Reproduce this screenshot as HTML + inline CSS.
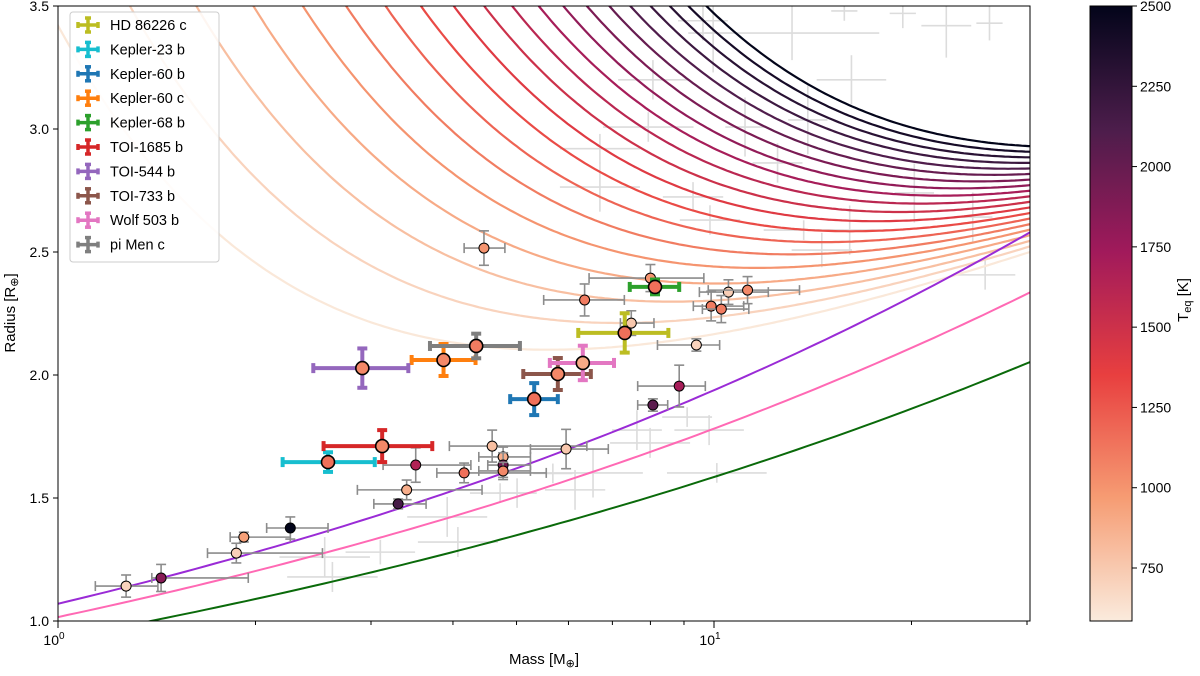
<!DOCTYPE html>
<html><head><meta charset="utf-8"><style>
body{margin:0;background:#fff;font-family:"Liberation Sans",sans-serif;}
svg text{font-family:"Liberation Sans","DejaVu Sans",sans-serif;}
</style></head><body>
<svg id="chart" width="1200" height="671" viewBox="0 0 1200 671" xmlns="http://www.w3.org/2000/svg">
<defs>
<clipPath id="clip"><rect x="58" y="6" width="972" height="615"/></clipPath>
<linearGradient id="cbgrad" x1="0" y1="1" x2="0" y2="0">
<stop offset="0" stop-color="#faebdd"/><stop offset="0.2" stop-color="#f69c73"/><stop offset="0.4" stop-color="#e83f3f"/><stop offset="0.6" stop-color="#a11a5b"/><stop offset="0.8" stop-color="#4c1d4b"/><stop offset="1" stop-color="#03051a"/>
</linearGradient>
</defs>
<g id="bg" clip-path="url(#clip)"></g>
<g id="curves" clip-path="url(#clip)"></g>
<g id="pts" clip-path="url(#clip)"></g>
<rect x="58" y="6" width="972" height="615" fill="none" stroke="#000" stroke-width="1"/>
<g id="axes"></g>
<g id="legend"></g>
<rect x="1090" y="6" width="42" height="615" fill="url(#cbgrad)" stroke="#000" stroke-width="1"/>
<g id="cbaxis"></g>
<text x="15" y="313" transform="rotate(-90 15 313)" text-anchor="middle" font-size="15">Radius [R<tspan font-family="DejaVu Sans" font-size="11" dy="3">⊕</tspan><tspan dy="-3">]</tspan></text>
<text x="544" y="664" text-anchor="middle" font-size="15">Mass [M<tspan font-family="DejaVu Sans" font-size="11" dy="3">⊕</tspan><tspan dy="-3">]</tspan></text>
<text x="1188" y="300" transform="rotate(-90 1188 300)" text-anchor="middle" font-size="15">T<tspan font-size="11" dy="3">eq</tspan><tspan dy="-3"> [K]</tspan></text>
</svg>
<script>
const NS="http://www.w3.org/2000/svg";
// ---- data ----
const curveTeq=[600,700,800,900,1000,1100,1200,1300,1400,1500,1600,1700,1800,1900,2000,2100,2200,2300,2400,2500];
const curveEnvelope=[2.56,3.25,3.93,4.62,5.31,5.99,6.68,7.36,8.05,8.74,9.42,10.11,10.79,11.48,12.17,12.85,13.54,14.22,14.91,15.60];
const curveBase=0.86;
const curveSlope=0.456;
const compNames=["earth-like","pink-composition","iron-rich"];
const compA=[1.07,1.016,0.927];
const compB=[0.258,0.244,0.233];
const compColors=["#9a2bd6","#ff69b4","#0a6a0a"];
// labeled planets
const labNames=["HD 86226 c","Kepler-23 b","Kepler-60 b","Kepler-60 c","Kepler-68 b","TOI-1685 b","TOI-544 b","TOI-733 b","Wolf 503 b","pi Men c"];
const labColors=["#bcbd22","#17becf","#1f77b4","#ff7f0e","#2ca02c","#d62728","#9467bd","#8c564b","#e377c2","#7f7f7f"];
const labMass=[7.31,2.58,5.32,3.87,8.13,3.12,2.91,5.78,6.31,4.34];
const labMassLo=[6.21,2.20,4.89,3.46,7.44,2.54,2.45,5.12,5.62,3.69];
const labMassHi=[8.52,3.04,5.78,4.33,8.85,3.72,3.42,6.49,7.04,5.06];
const labRad=[2.171,1.646,1.902,2.061,2.358,1.711,2.028,2.004,2.049,2.118];
const labRadErr=[0.08,0.04,0.065,0.065,0.03,0.065,0.08,0.065,0.07,0.05];
const labTeq=[1150,1150,1150,1050,1150,1050,1050,1050,900,1100];
// small points
const smMass=[1.27,1.436,1.87,1.92,2.26,3.30,3.40,3.51,4.16,4.59,4.77,4.77,4.77,4.46,6.35,8.00,9.40,10.52,11.25,9.90,10.26,7.48,8.85,8.07,5.95];
const smMassLo=[1.14,1.39,1.69,1.83,2.08,3.03,2.86,3.13,3.78,3.95,4.38,4.52,4.38,4.16,5.5,6.45,8.2,9.5,9.8,9.3,9.6,7.2,7.65,7.65,5.25];
const smMassHi=[1.42,1.95,2.53,2.26,2.58,3.64,4.43,4.26,5.55,6.4,5.25,5.25,5.25,4.8,7.3,9.65,10.2,12.1,13.5,11.1,11.3,8.1,9.7,8.5,6.9];
const smRad=[1.142,1.175,1.276,1.341,1.378,1.476,1.533,1.634,1.602,1.711,1.667,1.634,1.610,2.516,2.305,2.394,2.122,2.337,2.345,2.280,2.268,2.211,1.955,1.878,1.699];
const smRadErr=[0.045,0.055,0.04,0.02,0.045,0.02,0.04,0.07,0.04,0.065,0.04,0.05,0.035,0.07,0.065,0.055,0.025,0.05,0.055,0.06,0.055,0.05,0.085,0.025,0.08];
const smTeq=[700,1850,720,950,2500,2150,880,1650,1150,800,880,1950,1050,1000,1100,1000,700,730,1050,1100,1100,760,1700,2050,760];
// background crosses (mass, radius, half-error in mass decades, half-error in radius)
const bgMass=[13.15,16.2,9.97,9.62,8.07,7.94,6.70,11.15,13.9,12.5,20.2,24.8,16.1,13.7,14.6,25.9,6.70,9.29,9.86,26.3,15.8,19.4,22.6,7.63,7.99,9.10,9.83,6.54,6.14,10.1,5.01,4.72,3.92,4.07,3.10,2.55,2.62,5.68];
const bgRad=[3.39,3.20,3.39,3.44,3.20,3.008,2.92,3.008,3.037,2.862,2.74,2.642,2.589,2.589,2.508,2.407,2.764,2.724,2.63,3.43,3.48,3.47,3.42,1.776,1.724,1.829,1.776,1.602,1.533,1.602,1.52,1.52,1.423,1.321,1.28,1.26,1.179,1.60];
const bgMassErr=[0.133,0.053,0.038,0.038,0.053,0.069,0.061,0.03,0.03,0.038,0.03,0.03,0.069,0.061,0.046,0.046,0.061,0.046,0.046,0.02,0.02,0.02,0.038,0.038,0.061,0.038,0.053,0.076,0.046,0.076,0.03,0.046,0.061,0.061,0.053,0.069,0.069,0.03];
const bgRadErr=[0.11,0.10,0.16,0.08,0.08,0.06,0.06,0.12,0.14,0.08,0.12,0.10,0.10,0.04,0.07,0.06,0.10,0.06,0.06,0.07,0.04,0.06,0.13,0.081,0.061,0.04,0.061,0.10,0.081,0.04,0.06,0.04,0.081,0.061,0.05,0.081,0.061,0.04];
const yTicks=[1.0,1.5,2.0,2.5,3.0,3.5];
const cbTicks=[750,1000,1250,1500,1750,2000,2250,2500];
// ---- scales ----
const X=m=>58+656*Math.log10(m);
const Y=r=>621-246*(r-1);
const TMIN=585,TMAX=2500;
const CB=t=>621-615*(t-TMIN)/(TMAX-TMIN);
const stops=[[0,[250,235,221]],[0.2,[246,156,115]],[0.4,[232,63,63]],[0.6,[161,26,91]],[0.8,[76,29,75]],[1,[3,5,26]]];
function cmap(t){let f=Math.max(0,Math.min(1,(t-TMIN)/(TMAX-TMIN)));for(let i=1;i<stops.length;i++){if(f<=stops[i][0]){const a=stops[i-1],b=stops[i];const u=(f-a[0])/(b[0]-a[0]);const c=a[1].map((v,k)=>Math.round(v+(b[1][k]-v)*u));return `rgb(${c})`;}}return "rgb(3,5,26)";}
function el(tag,attrs,parent){const e=document.createElementNS(NS,tag);for(const k in attrs)e.setAttribute(k,attrs[k]);parent.appendChild(e);return e;}
const G=id=>document.getElementById(id);
// background crosses
const bg=G('bg');
bgMass.forEach((m,i)=>{const g=el('g',{},bg);


const x=X(m),y=Y(bgRad[i]);
el('line',{x1:X(m*Math.pow(10,-bgMassErr[i])),x2:X(m*Math.pow(10,bgMassErr[i])),y1:y,y2:y,stroke:'#dcdcdc','stroke-width':1.6},g);
el('line',{x1:x,x2:x,y1:Y(bgRad[i]-bgRadErr[i]),y2:Y(bgRad[i]+bgRadErr[i]),stroke:'#dcdcdc','stroke-width':1.6},g);});
// envelope curves
const cv=G('curves');
curveTeq.forEach((t,i)=>{let d='';for(let k=0;k<=300;k++){const lm=-0.05+1.55*k/300;const m=Math.pow(10,lm);const r=curveBase+curveSlope*Math.log(m)+curveEnvelope[i]/m;const y=Math.max(-50,Y(r));d+=(k?'L':'M')+X(m).toFixed(1)+','+y.toFixed(1);}
const p=el('path',{d,fill:'none',stroke:cmap(t),'stroke-width':2.2},cv);

});
// composition lines
compNames.forEach((n,i)=>{let d='';for(let k=0;k<=100;k++){const m=Math.pow(10,1.5*k/100);d+=(k?'L':'M')+X(m).toFixed(1)+','+Y(compA[i]*Math.pow(m,compB[i])).toFixed(1);}
const p=el('path',{d,fill:'none',stroke:compColors[i],'stroke-width':2},cv);

});
// points
const pts=G('pts');
function errbar(g,x1,x2,y,xc,y1,y2,col,w,cap){el('line',{x1,x2,y1:y,y2:y,stroke:col,'stroke-width':w},g);el('line',{x1:xc,x2:xc,y1,y2,stroke:col,'stroke-width':w},g);
[[x1,y-cap,x1,y+cap],[x2,y-cap,x2,y+cap],[xc-cap,y1,xc+cap,y1],[xc-cap,y2,xc+cap,y2]].forEach(a=>el('line',{x1:a[0],y1:a[1],x2:a[2],y2:a[3],stroke:col,'stroke-width':w},g));}
smMass.forEach((m,i)=>{const g=el('g',{},pts);


const x=X(m),y=Y(smRad[i]);
errbar(g,X(smMassLo[i]),X(smMassHi[i]),y,x,Y(smRad[i]-smRadErr[i]),Y(smRad[i]+smRadErr[i]),'#8c8c8c',1.6,5);
el('circle',{cx:x,cy:y,r:5,fill:cmap(smTeq[i]),stroke:'#000','stroke-width':1},g);});
labMass.forEach((m,i)=>{const g=el('g',{},pts);


const x=X(m),y=Y(labRad[i]);
errbar(g,X(labMassLo[i]),X(labMassHi[i]),y,x,Y(labRad[i]-labRadErr[i]),Y(labRad[i]+labRadErr[i]),labColors[i],4,5);
el('circle',{cx:x,cy:y,r:6.5,fill:cmap(labTeq[i]),stroke:'#000','stroke-width':1.6},g);});
// axes
const ax=G('axes');
yTicks.forEach(v=>{const y=Y(v);el('line',{x1:53,x2:58,y1:y,y2:y,stroke:'#000'},ax);const t=el('text',{x:49,y:y+5,'text-anchor':'end','font-size':14},ax);t.textContent=v.toFixed(1);

});
[1,10].forEach((v,i)=>{const x=X(v);el('line',{x1:x,x2:x,y1:621,y2:628,stroke:'#000'},ax);const t=el('text',{x:x-4,y:645,'text-anchor':'middle','font-size':14},ax);t.textContent='10';const s=el('tspan',{dy:-6,'font-size':10},t);s.textContent=String(i);

});
[2,3,4,5,6,7,8,9,20,30].forEach(v=>{const x=X(v);if(x<=1031)el('line',{x1:x,x2:x,y1:621,y2:625,stroke:'#000'},ax);});
const cba=G('cbaxis');
cbTicks.forEach(v=>{const y=CB(v);el('line',{x1:1132,x2:1137,y1:y,y2:y,stroke:'#000'},cba);const t=el('text',{x:1140,y:y+5,'font-size':14},cba);t.textContent=v;

});
// legend
const lg=G('legend');
el('rect',{x:70,y:12,width:149,height:250,rx:3,fill:'#fff','fill-opacity':0.85,stroke:'#ccc'},lg);
labNames.forEach((n,i)=>{const y=25+24.4*i;const g=el('g',{},lg);


errbar(g,78,98,y,88,y-7,y+7,labColors[i],3.5,3);
const t=el('text',{x:110,y:y+5,'font-size':14.5},g);t.textContent=n;});
</script>
</body></html>
